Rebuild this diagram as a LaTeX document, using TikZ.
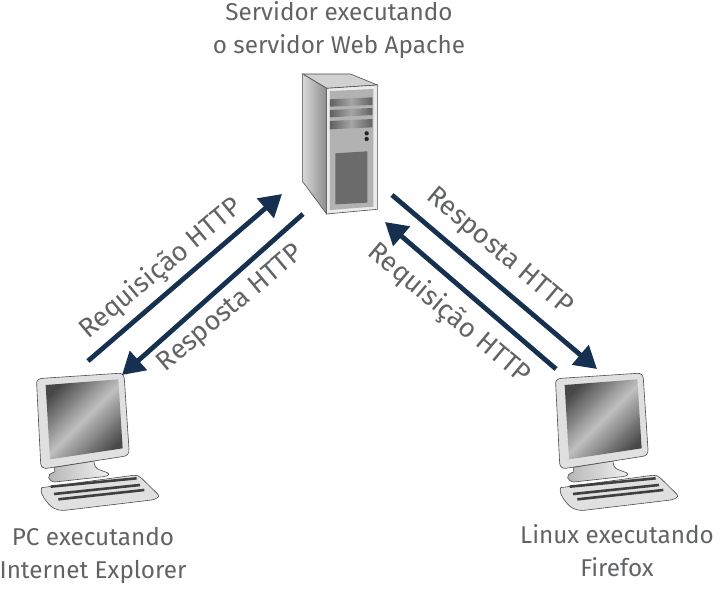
\documentclass[tikz,border=0pt]{standalone}
\usepackage{fontspec}
\setmainfont{Fira Sans}
\usetikzlibrary{arrows.meta}
\definecolor{arrowblue}{RGB}{21,49,79}
\definecolor{textgray}{RGB}{98,99,101}
\tikzset{
  outline/.style={draw=black!70,line width=0.6pt},
  msg/.style={-{Triangle[length=22pt,width=25pt]},arrowblue,line width=4.8pt,shorten >=0pt},
  caption/.style={text=textgray,font=\fontsize{24.3}{33}\selectfont,align=center,inner sep=0pt},
  msglabel/.style={text=textgray,font=\fontsize{27}{28}\selectfont,inner sep=0pt},
  computer/.pic={
    \begin{scope}[x=0.3333pt,y=-0.3333pt]
    % keyboard and stand
    \draw[outline,left color=black!30,right color=black!5]
      (103,322) -- (222,303) .. controls (222,318) and (228,326) .. (240,330)
      -- (262,338) .. controls (272,344) and (262,348) .. (250,350)
      -- (105,366) .. controls (85,364) and (75,345) .. (103,336) -- cycle;
    \draw[outline,fill=black!12]
      (65,383) -- (340,346) .. controls (350,344) and (358,348) .. (365,355)
      -- (414,403) .. controls (420,412) and (410,416) .. (395,420)
      -- (135,451) .. controls (110,452) and (95,445) .. (80,425)
      .. controls (68,410) and (60,395) .. (65,383) -- cycle;
    \foreach \ya/\yb/\xa in {380/355/92,402/375/102,418/390/115}
      \draw[black!75,line width=2.6pt] (\xa,\ya) -- (\xa+258,\yb);
    % monitor
    \draw[outline,fill=black!12]
      (50,72) .. controls (49,62) and (56,56) .. (66,55)
      -- (295,40) .. controls (306,39) and (312,46) .. (313,56)
      -- (327,268) .. controls (328,280) and (322,287) .. (312,289)
      -- (80,325) .. controls (70,326) and (63,320) .. (62,310) -- cycle;
    \begin{scope}
    \clip (77,75) -- (295,58) -- (308,265) -- (90,298) -- cycle;
    \shade[top color=black!72,bottom color=black!72,middle color=black!25,shading angle=45]
      (70,50) rectangle (315,305);
    \end{scope}
    \end{scope}
  }
}
\begin{document}
\begin{tikzpicture}[x=1pt,y=-1pt]
\useasboundingbox (0,0) rectangle (720,589);
% server tower
\begin{scope}[shift={(280,60)},x=0.3333pt,y=-0.3333pt]
\draw[outline,fill=black!18] (68,42) -- (212,42) -- (292,75) -- (140,85) -- cycle;
\draw[outline,left color=black!15,right color=black!45]
  (68,42) -- (140,85) -- (140,462) -- (68,365) -- cycle;
\draw[outline,fill=black!8] (140,85) -- (292,75) -- (292,448) -- (140,462) -- cycle;
\fill[black!30] (150,93) -- (280,87) -- (280,440) -- (150,450) -- cycle;
\foreach \ya/\yb/\yc/\yd in {118/112/135/140,150/144/165/172,183/177/202/208}
  \shade[left color=black!62,right color=black!62,middle color=black!35]
    (150,\ya) -- (277,\yb) -- (277,\yc) -- (150,\yd) -- cycle;
\fill[black!85] (260,220) circle (6.5);
\fill[black!85] (260,237) circle (6.5);
\fill[black!58] (166,280) -- (262,274) -- (262,428) -- (166,433) -- cycle;
\end{scope}
% client computers
\pic at (20,360) {computer};
\pic at (539,360) {computer};
% arrow ends
\coordinate (leftreqa) at (88,361);
\coordinate (leftreqb) at (282,194);
\coordinate (leftresa) at (303,214);
\coordinate (leftresb) at (122,375);
\coordinate (rightresa) at (392,195);
\coordinate (rightresb) at (597,369);
\coordinate (rightreqa) at (556,369);
\coordinate (rightreqb) at (385,222);
\draw[msg] (leftreqa) -- (leftreqb);
\draw[msg] (leftresa) -- (leftresb);
\draw[msg] (rightresa) -- (rightresb);
\draw[msg] (rightreqa) -- (rightreqb);
% labels
\node[msglabel,rotate=40] (leftreq) at (161,269) {Requisição HTTP};
\node[msglabel,rotate=40] (leftres) at (231,309) {Resposta HTTP};
\node[msglabel,rotate=-40] (rightres) at (499,252) {Resposta HTTP};
\node[msglabel,rotate=-40] (rightreq) at (449,314) {Requisição HTTP};
\node[caption] (servercap) at (339,30) {Servidor executando\\o servidor Web Apache};
\node[caption] (pccap) at (93,555) {PC executando\\Internet Explorer};
\node[caption] (linuxcap) at (617,551) {Linux executando\\Firefox};
\end{tikzpicture}
\end{document}
